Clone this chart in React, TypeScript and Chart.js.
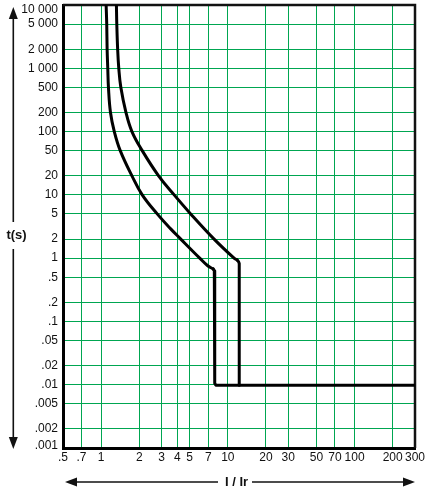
import React, { useEffect, useRef } from "react";
import { Chart, registerables } from "chart.js";

Chart.register(...registerables);

const xTickValues = [0.5, 0.7, 1, 2, 3, 4, 5, 7, 10, 20, 30, 50, 70, 100, 200, 300];
const xTickLabels = [".5", ".7", "1", "2", "3", "4", "5", "7", "10", "20", "30", "50", "70", "100", "200", "300"];
const yTickValues = [10000, 5000, 2000, 1000, 500, 200, 100, 50, 20, 10, 5, 2, 1, 0.5, 0.2, 0.1, 0.05, 0.02, 0.01, 0.005, 0.002, 0.001];
const yTickLabels = ["10 000", "5 000", "2 000", "1 000", "500", "200", "100", "50", "20", "10", "5", "2", "1", ".5", ".2", ".1", ".05", ".02", ".01", ".005", ".002", ".001"];

// Lower curve (I/Ir, t in s): smooth thermal part, then the straight magnetic part
const curveASmoothI = [1.095, 1.107, 1.115, 1.128, 1.142, 1.185, 1.27, 1.415, 1.75, 2.11, 2.77, 3.54, 4.25, 6.0, 6.9, 7.65];
const curveASmoothT = [10000, 5000, 2000, 1000, 500, 200, 100, 50, 20, 10, 5, 2.9, 2, 1, 0.764, 0.677];
const curveAStepI = [7.65, 7.82, 7.88, 7.88, 8.05, 300];
const curveAStepT = [0.677, 0.63, 0.57, 0.0105, 0.0098, 0.0098];
// Upper curve
const curveBSmoothI = [1.32, 1.329, 1.35, 1.378, 1.43, 1.571, 1.75, 2.11, 2.84, 3.77, 5.09, 7.79, 11.2, 11.8];
const curveBSmoothT = [10000, 5000, 2000, 1000, 500, 200, 100, 50, 20, 10, 5, 2, 1, 0.94];
const curveBStepI = [11.8, 12.15, 12.3, 12.3];
const curveBStepT = [0.94, 0.88, 0.82, 0.0098];

const xTitle = "I / Ir";
const yTitle = "t(s)";

const GREEN = "#00a651";
const FONT = "'Liberation Sans', Arial, Helvetica, sans-serif";

function toPoints(xs: number[], ys: number[]) {
  return xs.map((x, i) => ({ x, y: ys[i] }));
}

const decorPlugin = {
  id: "decor",
  beforeDatasetsDraw(chart: any) {
    const { ctx, chartArea } = chart;
    ctx.save();
    ctx.strokeStyle = "#111";
    ctx.lineWidth = 2.5;
    ctx.beginPath();
    ctx.moveTo(chartArea.left, chartArea.top);
    ctx.lineTo(chartArea.right, chartArea.top);
    ctx.lineTo(chartArea.right, chartArea.bottom);
    ctx.stroke();
    ctx.restore();
  },
  afterDraw(chart: any) {
    const { ctx, chartArea } = chart;
    ctx.save();
    ctx.fillStyle = "#111";
    ctx.strokeStyle = "#111";
    ctx.lineWidth = 1.6;

    const ax = 13.3;
    ctx.font = `bold 13px ${FONT}`;
    ctx.textAlign = "center";
    ctx.textBaseline = "middle";
    ctx.fillText(yTitle, 16.5, 235.5);

    const head = (tipX: number, tipY: number, dx: number, dy: number) => {
      const len = 12;
      const hw = 4.5;
      const bx = tipX - dx * len;
      const by = tipY - dy * len;
      ctx.beginPath();
      ctx.moveTo(tipX, tipY);
      ctx.lineTo(bx - dy * hw, by + dx * hw);
      ctx.lineTo(bx + dy * hw, by - dx * hw);
      ctx.closePath();
      ctx.fill();
    };

    ctx.beginPath();
    ctx.moveTo(ax, 222);
    ctx.lineTo(ax, chartArea.top + 10);
    ctx.stroke();
    head(ax, chartArea.top + 2, 0, -1);
    ctx.beginPath();
    ctx.moveTo(ax, 249);
    ctx.lineTo(ax, chartArea.bottom - 6);
    ctx.stroke();
    head(ax, chartArea.bottom + 1, 0, 1);

    const ay = 482;
    ctx.fillText(xTitle, 236.5, ay);
    ctx.beginPath();
    ctx.moveTo(218, ay);
    ctx.lineTo(chartArea.left + 8, ay);
    ctx.stroke();
    head(chartArea.left + 2, ay, -1, 0);
    ctx.beginPath();
    ctx.moveTo(252, ay);
    ctx.lineTo(chartArea.right - 8, ay);
    ctx.stroke();
    head(chartArea.right, ay, 1, 0);
    ctx.restore();
  },
};

export default function App() {
  const canvasRef = useRef<HTMLCanvasElement | null>(null);

  useEffect(() => {
    if (!canvasRef.current) return;
    const base = {
      borderColor: "#000",
      borderWidth: 3,
      pointRadius: 0,
      fill: false,
      showLine: true,
      borderJoinStyle: "round" as const,
      borderCapStyle: "round" as const,
    };
    const lastY = yTickValues.length - 1;
    const chart = new Chart(canvasRef.current, {
      type: "line",
      data: {
        datasets: [
          { label: "A", data: toPoints(curveASmoothI, curveASmoothT), ...base, tension: 0.4 },
          { label: "A2", data: toPoints(curveAStepI, curveAStepT), ...base, tension: 0 },
          { label: "B", data: toPoints(curveBSmoothI, curveBSmoothT), ...base, tension: 0.4 },
          { label: "B2", data: toPoints(curveBStepI, curveBStepT), ...base, tension: 0 },
        ],
      },
      options: {
        animation: false,
        responsive: false,
        maintainAspectRatio: false,
        parsing: false,
        layout: { padding: { top: 5, right: 11, left: 0, bottom: 0 } },
        plugins: {
          legend: { display: false },
          tooltip: { enabled: false },
          title: { display: false },
        },
        scales: {
          x: {
            type: "logarithmic",
            min: 0.5,
            max: 300,
            afterBuildTicks: (scale: any) => {
              scale.ticks = xTickValues.map((v) => ({ value: v }));
            },
            afterFit: (scale: any) => {
              scale.height = 48;
              scale.paddingLeft = 0;
              scale.paddingRight = 0;
            },
            grid: { color: GREEN, lineWidth: 1, drawTicks: false },
            border: { display: true, color: "#000", width: 3 },
            ticks: {
              autoSkip: false,
              maxRotation: 0,
              minRotation: 0,
              padding: 2,
              color: "#111",
              font: { family: FONT, size: 12 },
              callback: (_v: any, i: number) => xTickLabels[i],
            },
          },
          y: {
            type: "logarithmic",
            min: 0.001,
            max: 10000,
            afterBuildTicks: (scale: any) => {
              scale.ticks = yTickValues.map((v) => ({ value: v }));
            },
            afterFit: (scale: any) => {
              scale.width = 63;
              scale.paddingTop = 0;
              scale.paddingBottom = 0;
            },
            grid: { color: GREEN, lineWidth: 1, drawTicks: false },
            border: { display: true, color: "#000", width: 3 },
            ticks: {
              autoSkip: false,
              padding: 5,
              color: "#111",
              font: (ctx: any) => ({
                family: FONT,
                size: 12,
                lineHeight: ctx.index === 0 ? "10px" : ctx.index === lastY ? "4px" : 1.2,
              }),
              callback: (_v: any, i: number) =>
                i === 0 ? ["", yTickLabels[i]] : i === lastY ? [yTickLabels[i], ""] : yTickLabels[i],
            },
          },
        },
      },
      plugins: [decorPlugin],
    } as any);
    return () => chart.destroy();
  }, []);

  return (
    <div style={{ position: "fixed", left: 0, top: 0, width: 426, height: 496, background: "#fff" }}>
      <canvas ref={canvasRef} width={426} height={496} style={{ display: "block", width: 426, height: 496 }} />
    </div>
  );
}
